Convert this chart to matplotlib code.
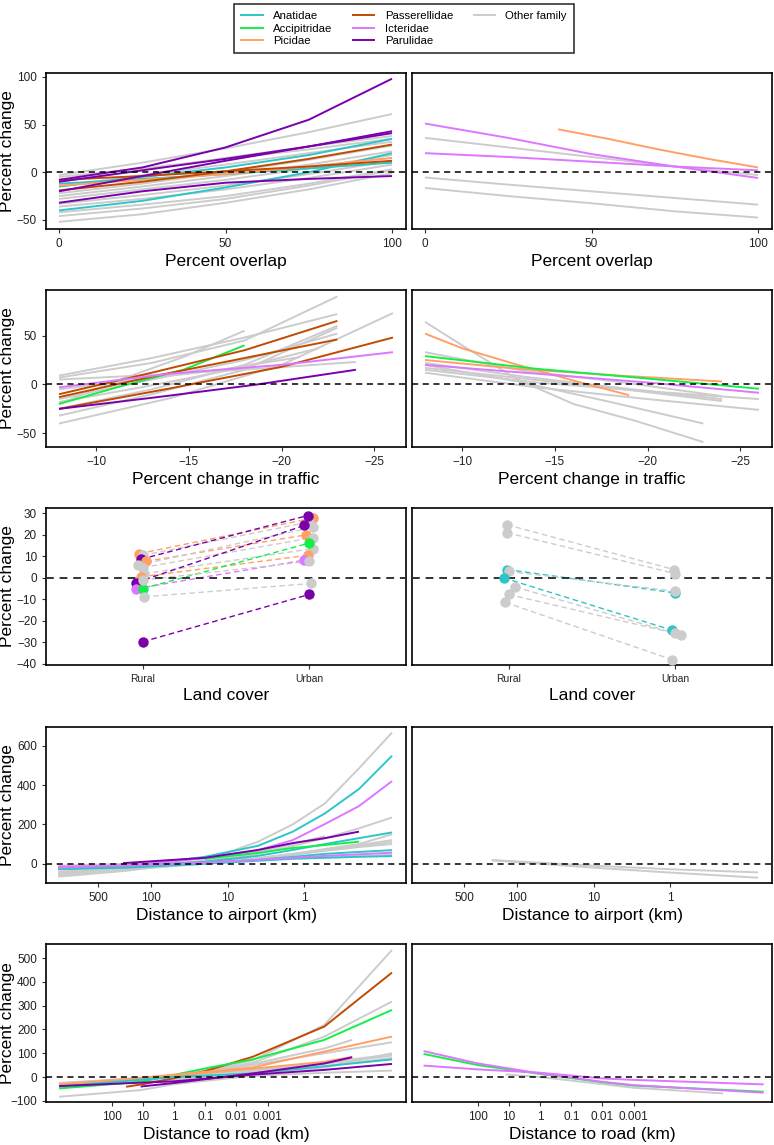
import matplotlib
matplotlib.use('Agg')
import matplotlib.pyplot as plt
from matplotlib.lines import Line2D
from matplotlib.ticker import FixedLocator, FixedFormatter, NullLocator

plt.rcParams['font.family'] = ['Liberation Sans', 'DejaVu Sans']

families = ['Anatidae', 'Accipitridae', 'Picidae',
            'Passerellidae', 'Icteridae', 'Parulidae', 'Other family']
colors = {
    'Anatidae': '#2CC6C8',
    'Accipitridae': '#14EE48',
    'Picidae': '#FFA066',
    'Passerellidae': '#C24A00',
    'Icteridae': '#DD77FF',
    'Parulidae': '#7A00AA',
    'Other family': '#CCCCCC',
}

# ---- row 1: percent overlap ----
ov = [0, 25, 50, 75, 100]
overlap_left = [
    ('Other family', ov, [-3, 10, 25, 42, 61]),
    ('Other family', ov, [-10, 2, 15, 27, 38]),
    ('Other family', ov, [-15, -3, 8, 20, 32]),
    ('Other family', ov, [-22, -12, 0, 13, 28]),
    ('Other family', ov, [-25, -15, -4, 8, 22]),
    ('Other family', ov, [-28, -18, -8, 4, 18]),
    ('Other family', ov, [-33, -24, -14, -2, 12]),
    ('Other family', ov, [-36, -28, -18, -6, 8]),
    ('Other family', ov, [-42, -34, -25, -12, 3]),
    ('Other family', ov, [-46, -38, -28, -14, 2]),
    ('Other family', ov, [-52, -44, -32, -18, -1]),
    ('Other family', ov, [-5, 4, 14, 24, 35]),
    ('Anatidae', ov, [-40, -30, -16, 0, 20]),
    ('Anatidae', ov, [-15, -5, 5, 18, 35]),
    ('Anatidae', ov, [-12, -7, -2, 4, 10]),
    ('Picidae', ov, [-14, -8, -2, 6, 15]),
    ('Passerellidae', ov, [-8, -4, 1, 6, 12]),
    ('Passerellidae', ov, [-19, -10, 1, 14, 29]),
    ('Parulidae', ov, [-8, 5, 26, 55, 98]),
    ('Parulidae', ov, [-20, -4, 12, 27, 43]),
    ('Parulidae', ov, [-10, 2, 14, 27, 41]),
    ('Parulidae', ov, [-32, -20, -11, -7, -4]),
]
overlap_right = [
    ('Other family', ov, [36, 26, 16, 6, -3]),
    ('Other family', ov, [-5.5, -13, -20, -27, -34]),
    ('Other family', ov, [-16.5, -25, -32.5, -41, -47.5]),
    ('Picidae', [40, 55, 70, 85, 100], [45, 35, 24, 14, 5]),
    ('Icteridae', ov, [51, 36, 19, 6, -6]),
    ('Icteridae', ov, [20, 16, 11, 6, 2]),
]

# ---- row 2: percent change in traffic ----
t4 = [-8, -13, -18, -23]
t6 = [-8, -14, -20, -26]
t5 = [-8, -13.3, -18.7, -24]
traffic_left = [
    ('Other family', t4, [7, 22, 45, 90]),
    ('Other family', t4, [9, 27, 48, 72]),
    ('Other family', [-8, -11.3, -14.7, -18], [-20, 5, 28, 55]),
    ('Other family', t6, [-40, -14, 20, 73]),
    ('Other family', t4, [-32, -10, 15, 58]),
    ('Other family', t4, [-15, 5, 25, 52]),
    ('Other family', [-8, -12.7, -17.3, -22], [-18, -2, 15, 37]),
    ('Other family', t5, [5, 10, 16, 23]),
    ('Other family', [-8, -12.3, -16.7, -21], [-5, 5, 15, 28]),
    ('Other family', t4, [-25, -5, 20, 60]),
    ('Accipitridae', [-8, -11.3, -14.7, -18], [-20, -2, 15, 40]),
    ('Passerellidae', t4, [-10, 12, 35, 65]),
    ('Passerellidae', t4, [-13, 8, 27, 46]),
    ('Passerellidae', t6, [-25, -4, 18, 48]),
    ('Icteridae', t6, [-3, 11, 20, 33]),
    ('Parulidae', [-8, -13.3, -18.7, -24], [-25, -13, 0, 15]),
]
traffic_right = [
    ('Other family', [-8, -10, -13, -16, -19.3, -23], [64, 40, 5, -20, -37, -59]),
    ('Other family', t5, [33, 14, 2, -12]),
    ('Other family', t5, [17, 6, -5, -17]),
    ('Other family', t6, [15, 2, -7, -15]),
    ('Other family', t6, [12, -3, -15, -26]),
    ('Other family', t4, [20, 3, -18, -40]),
    ('Other family', t5, [22, 8, -4, -15]),
    ('Picidae', [-8, -10, -13, -16, -19], [52, 37, 20, 4, -11]),
    ('Picidae', [-8, -13, -18.5, -24], [25, 16, 9, 3]),
    ('Accipitridae', t6, [29, 16, 6, -4.4]),
    ('Icteridae', t6, [20, 11, 2, -8.5]),
]

# ---- row 3: land cover (rural -> urban) ----
land_labels = ['Rural', 'Urban']
land_left_fam = ['Picidae', 'Other family', 'Parulidae', 'Picidae', 'Other family',
                 'Other family', 'Other family', 'Picidae', 'Parulidae', 'Icteridae',
                 'Accipitridae', 'Other family', 'Other family', 'Parulidae']
land_left_rural = [11.3, 10.5, 8.7, 7.7, 5.9, 4.8, 2.0, 0.5, -2.2, -5.0, -5.0, -8.8, -1.0, -29.7]
land_left_urban = [27.8, 26.0, 29.0, 20.0, 23.6, 18.7, 13.6, 10.5, 24.4, 8.2, 16.2, -2.6, 7.7, -7.7]
land_left_jit_r = [-0.02, 0.0, -0.01, 0.02, -0.03, 0.0, 0.01, -0.01, -0.04, -0.04, 0.0, 0.01, 0.0, 0.0]
land_left_jit_u = [0.02, 0.0, -0.01, -0.02, 0.025, 0.02, 0.02, -0.01, -0.03, -0.035, 0.0, 0.01, 0.0, 0.0]

land_right_fam = ['Other family', 'Other family', 'Anatidae', 'Other family', 'Anatidae',
                  'Other family', 'Other family', 'Other family']
land_right_rural = [24.7, 21.0, 3.9, 3.0, 0.0, -4.2, -7.7, -11.4]
land_right_urban = [3.9, 2.0, -7.0, -6.2, -24.3, -26.6, -25.8, -38.0]
land_right_jit_r = [-0.01, -0.01, -0.01, 0.0, -0.03, 0.04, 0.0, -0.02]
land_right_jit_u = [-0.01, 0.0, 0.0, 0.0, -0.02, 0.035, 0.0, -0.02]

# ---- row 4: distance to airport (km) ----
ap = [1660, 200, 20, 4, 1.4, 0.53, 0.19, 0.07]
airport_left = [
    ('Other family', ap, [-66, -35, 15, 112, 200, 307, 485, 667]),
    ('Other family', ap, [-55, -25, 10, 50, 90, 130, 180, 235]),
    ('Other family', ap[:6], [-40, -20, 15, 60, 100, 140]),
    ('Other family', ap, [-60, -30, 0, 20, 45, 70, 95, 120]),
    ('Other family', ap, [-50, -25, 0, 25, 50, 75, 100, 150]),
    ('Other family', ap, [-30, -10, 10, 30, 50, 70, 90, 110]),
    ('Other family', ap, [-45, -20, 5, 25, 45, 65, 85, 100]),
    ('Other family', ap, [-10, 0, 10, 20, 30, 35, 40, 45]),
    ('Anatidae', ap, [-27, -15, 35, 91, 163, 256, 380, 549]),
    ('Anatidae', ap, [-20, -12, 10, 40, 70, 100, 130, 159]),
    ('Anatidae', ap, [-25, -15, 5, 20, 35, 50, 60, 69]),
    ('Anatidae', ap, [-27, -20, 0, 15, 25, 30, 35, 39]),
    ('Icteridae', ap, [-20, -7, 27, 69, 120, 202, 293, 420]),
    ('Icteridae', ap, [-15, -10, 5, 20, 30, 40, 48, 56]),
    ('Accipitridae', [20, 4, 1.4, 0.53, 0.19], [25, 55, 80, 95, 112]),
    ('Parulidae', [235, 20, 4, 1.4, 0.53, 0.19], [3, 30, 70, 105, 130, 163]),
]
airport_right = [
    ('Other family', [216, 50, 10, 1, 0.07], [19, 5, -10, -28, -44]),
    ('Other family', [216, 50, 10, 1, 0.07], [17, 0, -20, -45, -71]),
]

# ---- row 5: distance to road (km) ----
rd = [5000, 1, 0.003, 1.5e-5, 1e-7]
road_left = [
    ('Other family', rd, [-30, 0, 70, 219, 534]),
    ('Other family', rd, [-40, 0, 60, 170, 317]),
    ('Other family', rd, [-35, 5, 50, 100, 146]),
    ('Other family', [5000, 1, 0.003, 1.5e-5, 1.9e-6], [-25, 5, 55, 120, 156]),
    ('Other family', rd, [-35, 0, 30, 60, 95]),
    ('Other family', rd, [-30, 5, 25, 55, 90]),
    ('Other family', rd, [-28, 0, 20, 45, 80]),
    ('Other family', rd, [-45, -10, 15, 40, 100]),
    ('Other family', [5000, 12, 1, 0.003, 1.5e-5, 1e-7], [-83, -55, -30, 5, 18, 27]),
    ('Passerellidae', [35, 10, 1, 0.1, 0.003, 1.5e-5, 1e-7], [-41, -30, -5, 25, 85, 212, 439]),
    ('Accipitridae', [5000, 12, 0.1, 0.003, 1.5e-5, 1e-7], [-48, -20, 36, 74, 156, 282]),
    ('Picidae', rd, [-35, 10, 40, 107, 170]),
    ('Picidae', [5000, 1, 0.003, 1.5e-5, 1.9e-6], [-30, 5, 35, 64, 85]),
    ('Anatidae', rd, [-40, 0, 15, 45, 74]),
    ('Parulidae', rd, [-38, -18, 10, 30, 55]),
    ('Parulidae', [12, 1, 0.003, 1.5e-5, 1.9e-6], [-40, -25, 15, 57, 83]),
]
rr = [5600, 100, 1, 0.01, 0.001, 6.6e-8]
road_right = [
    ('Other family', [13, 1, 0.01, 0.001, 1.3e-6], [11, 0, -30, -45, -69]),
    ('Accipitridae', rr, [97, 50, 13, -22, -36, -62]),
    ('Icteridae', rr, [109, 57, 15, -20, -34, -66]),
    ('Icteridae', rr, [48, 32, 18, -6, -12, -31]),
]
road_ticks = [100, 10, 1, 0.1, 0.01, 0.001]
road_ticklabels = ['100', '10', '1', '0.1', '0.01', '0.001']

# ---------------- layout ----------------
W, H = 774, 1145
fig = plt.figure(figsize=(W / 100, H / 100), dpi=100)
rows_px = [(73, 229), (290, 447), (508, 665), (727, 883), (944, 1102)]
cols_px = [(46, 406), (412, 772)]


def add_ax(c, r):
    x0, x1 = cols_px[c]
    y0, y1 = rows_px[r]
    ax = fig.add_axes([x0 / W, 1 - y1 / H, (x1 - x0) / W, (y1 - y0) / H])
    for s in ax.spines.values():
        s.set_linewidth(1.2)
        s.set_color('black')
    ax.tick_params(direction='out', length=3, width=0.8, color='#333333',
                   labelsize=8.5, labelcolor='#222222')
    return ax


def draw_lines(ax, lines):
    for fam, xs, ys in lines:
        ax.plot(xs, ys, color=colors[fam], lw=1.4, zorder=2, solid_capstyle='butt')
    ax.axhline(0, color='black', lw=1.1, ls=(0, (4, 3)), zorder=3)


def draw_pairs(ax, fams, rural, urban, jr, ju):
    for f, a, b, j1, j2 in zip(fams, rural, urban, jr, ju):
        ax.plot([1 + j1, 2 + j2], [a, b], color=colors[f], lw=1.0,
                ls=(0, (4, 2.5)), zorder=2)
    ax.axhline(0, color='#333333', lw=1.4, ls=(0, (4, 3)), zorder=3)
    for f, a, b, j1, j2 in zip(fams, rural, urban, jr, ju):
        ax.plot([1 + j1, 2 + j2], [a, b], ls='none', marker='o', ms=7.5,
                color=colors[f], mec='none', zorder=4)


panels = [
    (overlap_left, overlap_right, 'Percent overlap'),
    (traffic_left, traffic_right, 'Percent change in traffic'),
    (None, None, 'Land cover'),
    (airport_left, airport_right, 'Distance to airport (km)'),
    (road_left, road_right, 'Distance to road (km)'),
]

for r, (left, right, xlabel) in enumerate(panels):
    for c in range(2):
        ax = add_ax(c, r)
        if r == 2:
            if c == 0:
                draw_pairs(ax, land_left_fam, land_left_rural, land_left_urban,
                           land_left_jit_r, land_left_jit_u)
            else:
                draw_pairs(ax, land_right_fam, land_right_rural, land_right_urban,
                           land_right_jit_r, land_right_jit_u)
            ax.set_xlim(0.42, 2.58)
            ax.set_ylim(-40.5, 32.5)
            ax.set_xticks([1, 2])
            ax.set_xticklabels(land_labels, fontsize=7.5)
            ax.set_yticks(range(-40, 31, 10))
        else:
            draw_lines(ax, left if c == 0 else right)
        if r == 0:
            ax.set_xlim(-3.9, 104.2)
            ax.set_ylim(-59.5, 104)
            ax.set_xticks([0, 50, 100])
            ax.set_yticks([-50, 0, 50, 100])
        elif r == 1:
            ax.set_xlim(-7.3, -26.7)
            ax.set_ylim(-64, 96.6)
            ax.set_xticks([-10, -15, -20, -25])
            ax.set_yticks([-50, 0, 50])
        elif r == 3:
            ax.set_xscale('log')
            ax.set_xlim(2400, 0.046)
            ax.set_ylim(-98, 695)
            ax.xaxis.set_major_locator(FixedLocator([500, 100, 10, 1]))
            ax.xaxis.set_major_formatter(FixedFormatter(['500', '100', '10', '1']))
            ax.xaxis.set_minor_locator(NullLocator())
            ax.set_yticks([0, 200, 400, 600])
        elif r == 4:
            ax.set_xscale('log')
            ax.set_xlim(10 ** 4.12, 10 ** -7.45)
            ax.set_ylim(-105, 559)
            ax.xaxis.set_major_locator(FixedLocator(road_ticks))
            ax.xaxis.set_major_formatter(FixedFormatter(road_ticklabels))
            ax.xaxis.set_minor_locator(NullLocator())
            ax.set_yticks(range(-100, 501, 100))
        ax.set_xlabel(xlabel, fontsize=12.5, labelpad=3)
        if c == 0:
            ax.set_ylabel('Percent change', fontsize=12.5)
            ax.yaxis.set_label_coords(-0.085, 0.5)
        else:
            ax.tick_params(axis='y', left=False, labelleft=False)

handles = [Line2D([], [], color=colors[f], lw=1.4) for f in families]
labels = list(families)
# two blank entries so the last column holds only "Other family"
handles += [Line2D([], [], alpha=0), Line2D([], [], alpha=0)]
labels += ['', '']
leg = fig.legend(handles, labels, ncol=3, loc='center',
                 bbox_to_anchor=(404 / W, 1 - 28.5 / H), fontsize=8.2,
                 frameon=True, fancybox=False, edgecolor='black',
                 handlelength=1.9, handletextpad=0.9, columnspacing=1.8,
                 labelspacing=0.25, borderpad=0.6, borderaxespad=0)
leg.get_frame().set_linewidth(1.2)

fig.savefig('out.png', dpi=100)
